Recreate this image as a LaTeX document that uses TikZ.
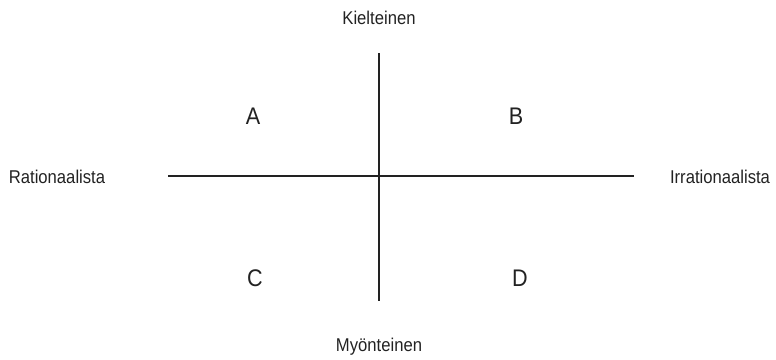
\documentclass[tikz,border=0pt]{standalone}
\usepackage{fontspec}
\setmainfont{Liberation Sans}[FakeStretch=0.9]
\usepackage{xcolor}
\definecolor{ink}{HTML}{222222}
\tikzset{
  axis/.style  = {draw=ink, line width=2pt},
  pole/.style  = {text=ink, font=\fontsize{18.5}{20}\selectfont, inner sep=0pt},
  quad/.style  = {text=ink, font=\fontsize{24}{26}\selectfont, inner sep=0pt},
}

\begin{document}
\begin{tikzpicture}[x=1pt,y=-1pt]
\useasboundingbox (0,0) rectangle (776,359);
\coordinate (top) at (379,53);
\coordinate (bot) at (379,301);
\coordinate (lft) at (168,176);
\coordinate (rgt) at (634,176);
\draw[axis] (top) -- (bot);
\draw[axis] (lft) -- (rgt);
\node[pole] (neg) at (379,18) {Kielteinen};
\node[pole] (pos) at (379,347) {Myönteinen};
\node[pole] (rat) at (57,177) {Rationaalista};
\node[pole] (irr) at (720,177) {Irrationaalista};
\node[quad] (qa) at (253,116) {A};
\node[quad] (qb) at (516,116) {B};
\node[quad] (qc) at (255,278) {C};
\node[quad] (qd) at (520,278) {D};
\end{tikzpicture}
\end{document}
